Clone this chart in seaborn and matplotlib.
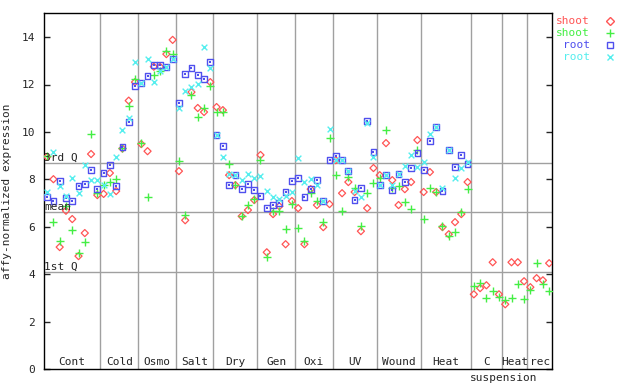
import numpy as np
import pandas as pd
import matplotlib
matplotlib.use("Agg")
import matplotlib.pyplot as plt
import seaborn as sns
from matplotlib.lines import Line2D

# groups of samples along the x axis (count of samples per group)
groups = ["Cont", "Cold", "Osmo", "Salt", "Dry", "Gen", "Oxi", "UV", "Wound", "Heat", "C", "Heat", "rec"]
group_sizes = [9, 6, 6, 6, 7, 6, 6, 7, 7, 8, 5, 4, 4]

# shoot replicate 1 (red diamonds), 81 samples
shoot1 = [8.95, 8.01, 5.15, 6.68, 6.33, 4.77, 5.74, 9.07, 7.34,
          7.39, 8.27, 7.51, 9.30, 11.32, 12.10,
          9.49, 9.19, 12.75, 12.74, 13.28, 13.88,
          8.35, 6.28, 11.68, 11.01, 10.84, 12.10,
          11.05, 10.92, 8.18, 7.76, 6.45, 6.71, 7.13,
          9.03, 4.93, 6.54, 6.87, 5.27, 7.09,
          6.79, 5.27, 7.59, 6.92, 5.99, 6.96,
          8.81, 7.42, 7.89, 7.47, 5.82, 6.79, 8.48,
          8.18, 9.53, 7.97, 6.92, 7.59, 7.89, 9.66,
          7.47, 8.31, 7.47, 5.99, 5.69, 6.20, 6.54, 7.89,
          3.16, 3.42, 3.54, 4.51, 3.16,
          2.74, 4.51, 4.51, 3.71,
          3.46, 3.84, 3.75, 4.47]

# shoot replicate 2 (green plus)
shoot2 = [9.00, 6.21, 5.41, 6.89, 5.86, 4.89, 5.37, 9.91, 7.42,
          7.76, 7.89, 8.01, 9.32, 11.09, 12.23,
          9.53, 7.25, 12.40, 12.57, 13.41, 13.28,
          8.77, 6.50, 11.56, 10.63, 11.01, 11.94,
          10.84, 10.84, 8.65, 7.76, 6.45, 6.92, 7.17,
          8.81, 4.72, 6.66, 6.66, 5.90, 6.96,
          5.95, 5.41, 7.42, 7.09, 6.20, 9.74,
          8.18, 6.66, 8.10, 7.63, 6.02, 7.42, 7.84,
          8.06, 10.08, 7.65, 7.72, 7.04, 6.75, 9.24,
          6.33, 7.63, 7.47, 6.03, 5.61, 5.78, 6.61, 7.59,
          3.50, 3.63, 2.99, 3.29, 3.04,
          2.91, 2.99, 3.58, 2.95,
          3.33, 4.47, 3.58, 3.29]

# root replicate 1 (blue squares), first 68 samples only
root1 = [7.27, 7.09, 7.93, 7.21, 7.09, 7.72, 7.80, 8.39, 7.59,
         8.27, 8.60, 7.72, 9.36, 10.42, 11.94,
         12.06, 12.36, 12.82, 12.82, 12.74, 13.07,
         11.22, 12.44, 12.69, 12.40, 12.23, 12.95,
         9.86, 9.41, 7.76, 8.18, 7.59, 7.80, 7.55,
         7.30, 6.79, 6.92, 7.00, 7.47, 7.93,
         8.06, 7.25, 7.59, 7.97, 7.09, 8.81,
         8.98, 8.83, 8.35, 7.13, 7.63, 10.46, 9.15,
         7.76, 8.18, 7.55, 8.22, 7.89, 8.48, 9.11,
         8.39, 9.62, 10.21, 7.51, 9.24, 8.52, 9.03, 8.65]

# root replicate 2 (cyan crosses)
root2 = [7.47, 9.15, 7.72, 7.30, 8.06, 7.42, 8.60, 7.97, 7.97,
         7.77, 7.38, 8.94, 10.08, 10.59, 12.95,
         12.06, 13.07, 12.10, 12.57, 12.74, 13.07,
         11.01, 11.72, 11.89, 12.02, 13.58, 12.69,
         9.86, 8.94, 8.22, 8.18, 7.97, 8.22, 8.06,
         8.14, 7.51, 7.25, 7.17, 7.30, 7.47,
         8.90, 7.89, 8.01, 7.76, 7.09, 10.12,
         8.81, 8.83, 8.35, 7.50, 7.25, 10.38, 8.94,
         7.76, 8.18, 7.76, 8.22, 8.56, 9.03, 8.52,
         8.73, 9.91, 10.21, 7.63, 9.24, 8.06, 8.48, 8.73]

# reference lines
q3_value = 8.69
mean_value = 6.63
q1_value = 4.09

red = "#ff5555"
green = "#44ee44"
blue = "#5050ee"
cyan = "#55eeee"
grey = "#a0a0a0"
mono = "DejaVu Sans Mono"

sns.set_style("white")
plt.rcParams["font.family"] = [mono]
plt.rcParams["font.size"] = 8

fig = plt.figure(figsize=(6.4, 3.84), dpi=100)
ax = fig.add_axes([44 / 640, 1 - 369.3 / 384, 508.3 / 640, 356 / 384])

n_total = sum(group_sizes)
df_shoot = pd.DataFrame({"x": np.arange(n_total), "s1": shoot1, "s2": shoot2})
df_root = pd.DataFrame({"x": np.arange(len(root1)), "r1": root1, "r2": root2})

# group separators and reference lines
bounds = np.cumsum(group_sizes)[:-1] - 0.5
for b in bounds:
    ax.axvline(b, color=grey, lw=1, zorder=1)
for v in (q3_value, mean_value, q1_value):
    ax.axhline(v, color=grey, lw=1, zorder=1)
ax.text(-0.45, q3_value, "3rd Q", ha="left", va="bottom", zorder=5)
ax.text(-0.45, mean_value, "mean", ha="left", va="bottom", zorder=5)
ax.text(-0.45, q1_value, "1st Q", ha="left", va="bottom", zorder=5)

sns.scatterplot(data=df_shoot, x="x", y="s1", marker="D", s=13, facecolor="none",
                edgecolor=red, linewidth=0.9, ax=ax, zorder=3)
sns.scatterplot(data=df_shoot, x="x", y="s2", marker="+", s=28, color=green,
                linewidth=1, ax=ax, zorder=3)
sns.scatterplot(data=df_root, x="x", y="r1", marker="s", s=17, facecolor="none",
                edgecolor=blue, linewidth=1, ax=ax, zorder=3)
sns.scatterplot(data=df_root, x="x", y="r1", marker="s", s=1.2, color=blue,
                linewidth=0, ax=ax, zorder=3)
sns.scatterplot(data=df_root, x="x", y="r2", marker="x", s=17, color=cyan,
                linewidth=1, ax=ax, zorder=4)

# group labels
starts = np.concatenate([[0], np.cumsum(group_sizes)[:-1]])
for name, st, sz in zip(groups, starts, group_sizes):
    ax.text(st + (sz - 1) / 2, 0.3, name, ha="center", va="center")
ax.text(72.8, -0.37, "suspension", ha="center", va="center", clip_on=False)

ax.set_xlim(-0.5, n_total - 0.5)
ax.set_ylim(0, 15)
ax.set_xticks([])
ax.set_yticks(range(0, 15, 2))
ax.tick_params(axis="y", direction="in", length=4.5, width=1, right=True,
               left=True, pad=6.5, labelsize=8)
ax.set_xlabel("")
ax.set_ylabel("affy-normalized expression", fontsize=8)
ax.yaxis.set_label_coords(-0.063, 0.5)
for sp in ax.spines.values():
    sp.set_color("black")
    sp.set_linewidth(1)

# key outside the plot, right side
key = [("shoot", red, "D", 13), ("shoot", green, "+", 28),
       ("root", blue, "s", 17), ("root", cyan, "x", 17)]
for k, (lab, col, mk, sz) in enumerate(key):
    ypix = 21 + 12 * k
    fig.text(590 / 640, 1 - ypix / 384, lab, color=col, ha="right", va="center")
    filled = mk in ("D", "s")
    fig.add_artist(Line2D([610 / 640], [1 - ypix / 384], transform=fig.transFigure,
                          marker=mk, markersize=np.sqrt(sz), linestyle="none",
                          markerfacecolor="none" if filled else col,
                          markeredgecolor=col, markeredgewidth=1))

fig.savefig("out.png", dpi=100)
